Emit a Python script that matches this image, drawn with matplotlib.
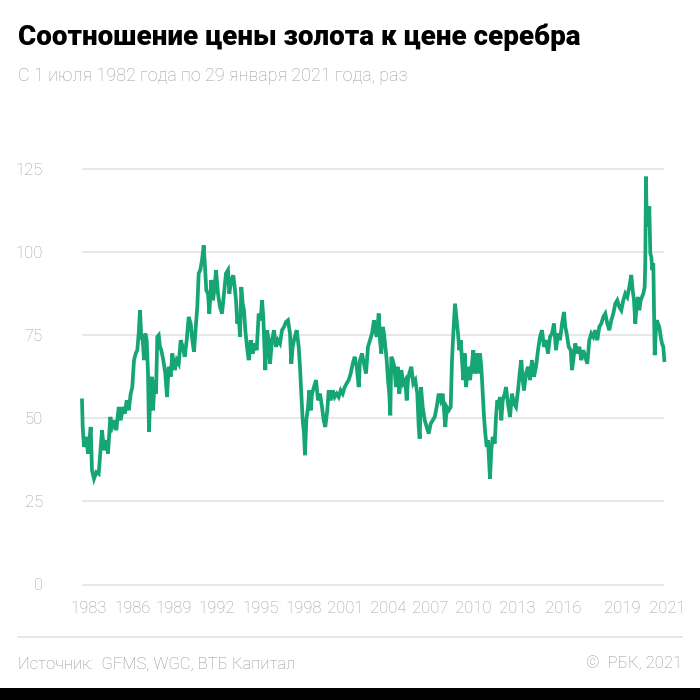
import matplotlib
matplotlib.use("Agg")
import matplotlib.pyplot as plt
from matplotlib.patches import Rectangle

plt.rcParams['font.family'] = ['Roboto', 'DejaVu Sans']

# gold/silver ratio; x is position along the (irregular) time axis
pos = [
    0, 0.7, 2, 4.3, 6, 8.7, 10, 12, 14.3, 16.7, 18.7, 20, 22, 24.3, 26, 28.3, 30.3, 32.7,
    34.3, 36.7, 38.7, 41, 42.7, 44.7, 46.7, 48.7, 50.3, 52, 53.7, 55.3, 56.7, 58, 59.3,
    60.7, 62, 63.3, 64.7, 66, 67, 68.3, 69.7, 71, 72.7, 74, 75.3, 76.7, 78, 79.3, 81.3,
    83.3, 85, 86.7, 88.7, 90.3, 92.7, 94.7, 96.7, 98.7, 100.7, 102.7, 104.7, 106.7, 108.7,
    110.3, 112, 114, 115.3, 116.7, 118.3, 120, 121.7, 123, 124.3, 126, 127.3, 129.3, 131,
    132.7, 134, 136, 138, 140, 142, 144, 146,
    147.3, 149.3, 151.3, 152.7, 154, 155.3, 156.7, 158, 159.3, 160.7, 162, 163.3, 165,
    166.7, 168.7, 170.7, 172.7, 174.7, 176.7, 178.7, 180, 181.3, 182.7, 183.3, 185, 186.7,
    188, 190, 192, 194, 196, 198, 200, 202, 204, 206, 208, 209.3, 210.7, 212.7, 214.7,
    216.7, 218, 219.3, 220.7, 222, 223, 224.3, 226, 227.3, 228.7, 230, 232, 234, 236, 238,
    240, 241.7, 243.3, 245.3, 246.7, 248.7, 250.7, 252.7, 254.7, 256.7, 258.7, 260.7,
    262.7, 264.7, 266.7, 268.7, 270.7, 272.7, 274.7, 276.7, 278, 280, 282, 284, 286, 288,
    290,
    292, 293.3, 294.7, 296.7, 298, 299.3, 300.7, 302, 303.3, 304.7, 306, 307.3, 308.3,
    309.3, 310.7, 312.3, 314, 315.7, 317.3, 319.3, 321.3, 323.3, 324.7, 326, 327.3, 329.3,
    331.3, 333.3, 335.3, 336.7, 337.7, 339, 340.7, 342.7, 344.7, 346.7, 348.7, 350.7,
    352.7, 354.7, 356.7, 358.7, 360.7, 362, 363.3, 364.7, 366.7, 368.7, 370, 371.3, 373,
    374.3, 376, 377.3, 378.7, 380, 381.3, 382.7, 384, 386, 388, 390, 391.3, 392.7, 394,
    396, 398, 399.3, 400.7, 402, 403.3, 404.7, 406, 407.3, 408, 409.3, 410.7, 412.7, 414,
    415.3, 416.7, 418, 419.3, 420.7, 422.7, 424, 426, 428, 430, 432, 434,
    436, 438, 439.3, 440.7, 442, 444, 446, 448, 450, 452, 454, 456, 458, 460, 462, 464,
    466, 468, 470, 472, 474, 476, 478, 480, 482, 483.3, 484.7, 486.7, 488.7, 490, 491.3,
    493.3, 495.3, 497.3, 499.3, 501.3, 503.3, 505.3, 507.3, 509.3, 511.3, 513.3, 515.3,
    517.3, 519.3, 521.3, 523.3, 525.3, 527.3, 529.3, 531.3, 533.3, 535.3, 537.3, 539.3,
    541.3, 543.3, 545.3, 547.3, 549.3, 550.7, 552, 553.3, 554.7, 556, 557.3, 558.7, 560,
    561.3, 562.7, 563.3, 564, 564.7, 565.7, 566.7, 567.3, 568.3, 569.3, 570.3, 571.3, 572,
    572.7, 573.7, 574.7, 576, 577.3, 578.7, 580, 581.3, 582.3,
]
ratio = [
    55.4, 47.4, 41.4, 44.4, 39.4, 47.4, 34.3, 31.8, 33.8, 33.3, 41.4, 46.4, 40.4, 43.4,
    39.4, 50.4, 47.4, 49.4, 46.4, 53.4, 49.4, 53.4, 51.4, 55.4, 52.4, 57.4, 59.4, 67.5,
    69.5, 70.5, 75.5, 82.5, 74.5, 73.5, 67.5, 75.5, 73.5, 63.5, 45.9, 57.4, 62.5, 52.4,
    61.5, 57.4, 74.5, 75.0, 71.5, 70.5, 67.5, 63.5, 56.4, 65.5, 62.5, 69.5, 64.5, 67.5,
    66.4, 73.5, 71.5, 68.5, 73.5, 80.5, 78.5, 73.5, 70.0, 78.5, 83.5, 93.6, 94.6, 97.6,
    102.0, 95.6, 88.5, 87.5, 81.5, 91.6, 85.5, 89.5, 94.6, 87.5, 83.5, 81.5, 87.5, 93.6,
    94.6,
    87.5, 91.6, 93.0, 89.5, 85.5, 78.5, 81.5, 74.5, 89.5, 84.5, 82.5, 76.5, 71.5, 67.5,
    73.5, 69.5, 72.5, 70.5, 81.5, 79.5, 85.5, 80.5, 69.5, 64.5, 76.5, 73.5, 66.4, 73.5,
    76.5, 71.5, 73.5, 72.5, 76.5, 77.5, 79.0, 79.5, 75.5, 66.4, 71.5, 74.5, 76.5, 71.5,
    65.5, 57.4, 49.4, 45.4, 38.9, 49.4, 53.4, 58.4, 52.4, 57.4, 59.4, 61.5, 55.4, 57.4,
    53.4, 49.4, 47.4, 52.4, 58.4, 55.4, 58.4, 56.4, 57.4, 56.4, 58.4, 57.4, 59.4, 60.5,
    61.5, 63.5, 66.4, 68.5, 65.5, 59.4, 67.5, 69.5, 66.4, 63.5, 71.5, 73.5, 75.5,
    79.5, 76.5, 74.5, 81.5, 73.5, 69.5, 77.5, 75.5, 71.5, 67.5, 61.5, 57.4, 50.9, 68.5,
    67.5, 65.5, 59.4, 65.5, 57.4, 64.5, 60.5, 61.5, 55.4, 61.5, 63.5, 65.5, 60.5, 61.5,
    57.4, 47.4, 43.9, 59.4, 53.4, 49.4, 47.4, 45.4, 48.4, 49.4, 50.4, 53.4, 57.4, 55.4,
    57.4, 52.4, 47.4, 53.4, 52.4, 53.4, 67.5, 75.5, 84.5, 80.5, 75.5, 70.5, 73.5, 67.5,
    61.5, 69.5, 59.4, 65.5, 61.5, 66.4, 70.5, 63.5, 69.5, 63.5, 69.5, 65.5, 57.4, 50.4,
    45.4, 41.4, 43.4, 36.2, 31.8, 40.4, 44.4, 42.4, 50.4, 55.4, 54.4, 56.4, 49.4, 55.4,
    57.4, 59.4, 54.4, 50.4, 57.4, 54.4, 53.4,
    58.4, 64.5, 67.5, 61.5, 58.4, 63.5, 65.5, 61.5, 67.5, 62.5, 65.5, 70.5, 74.5, 76.5,
    71.5, 73.5, 69.5, 74.5, 75.5, 78.5, 70.5, 75.5, 73.5, 78.5, 82.0, 77.5, 75.5, 71.5,
    70.5, 64.5, 67.5, 72.5, 69.5, 71.5, 67.5, 70.5, 68.5, 66.4, 73.5, 75.5, 74.5, 76.5,
    73.5, 77.5, 78.5, 80.5, 81.5, 78.5, 76.5, 79.5, 81.5, 84.5, 85.5, 83.5, 82.5, 85.5,
    87.5, 86.5, 89.5, 93.1, 88.5, 85.5, 78.5, 84.5, 86.5, 82.5, 85.5, 86.5, 87.5, 89.5,
    97.6, 122.7, 107.6, 113.7, 109.6, 113.7, 99.6, 98.6, 94.6, 96.6, 82.5, 69.0, 75.5,
    79.5, 78.5, 77.5, 74.5, 72.5, 71.5, 67.5,
]

tick_pos = [7, 51, 92, 135, 179, 222, 263, 306, 348, 391, 435, 481, 540, 585]
tick_labels = ['1983', '1986', '1989', '1992', '1995', '1998', '2001', '2004',
               '2007', '2010', '2013', '2016', '2019', '2021']
y_ticks = [0, 25, 50, 75, 100, 125]

GREEN = '#16a673'
GRID = '#e3e3e3'
GREY_TXT = '#9b9b9b'

fig = plt.figure(figsize=(7, 7), dpi=100)
ax = fig.add_axes([82 / 700, 1 - 584.5 / 700, 590 / 700, 415.5 / 700])
ax.set_xlim(0, 590)
ax.set_ylim(0, 125)

ax.hlines(y_ticks, 0, 582, color=GRID, lw=1.2, zorder=1, clip_on=False)
ax.plot(pos, ratio, color=GREEN, lw=2.7, solid_joinstyle='miter', zorder=3, clip_on=False)

for s in ax.spines.values():
    s.set_visible(False)
ax.set_yticks(y_ticks)
ax.set_yticklabels([str(v) for v in y_ticks])
ax.set_xticks(tick_pos)
ax.set_xticklabels(tick_labels)
ax.tick_params(axis='y', length=0, pad=28, labelsize=12, labelcolor=GREY_TXT)
ax.tick_params(axis='x', length=0, pad=12, labelsize=12, labelcolor=GREY_TXT)
for lab in ax.get_yticklabels():
    lab.set_fontweight('light')
for lab in ax.get_xticklabels():
    lab.set_fontweight('light')

fig.text(18 / 700, 1 - 45 / 700, 'Соотношение цены золота к цене серебра',
         fontsize=20, fontweight='heavy', color='#000000', va='baseline', ha='left')
fig.text(18 / 700, 1 - 81 / 700, 'С 1 июля 1982 года по 29 января 2021 года, раз',
         fontsize=13, fontweight='light', color=GREY_TXT, va='baseline', ha='left')

fig.add_artist(plt.Line2D([18 / 700, 682 / 700], [1 - 637 / 700, 1 - 637 / 700],
                          transform=fig.transFigure, color=GRID, lw=1.2))
fig.text(18 / 700, 1 - 664 / 700, 'Источник:  GFMS, WGC, ВТБ Капитал',
         fontsize=12, fontweight='light', color='#8f8f8f', va='center', ha='left')
fig.text(682 / 700, 1 - 664 / 700, '©  РБК, 2021',
         fontsize=12, fontweight='light', color='#8f8f8f', va='center', ha='right')

fig.add_artist(Rectangle((0, 0), 1, 12 / 700, transform=fig.transFigure,
                         facecolor='black', edgecolor='none'))

fig.savefig('out.png', dpi=100)
